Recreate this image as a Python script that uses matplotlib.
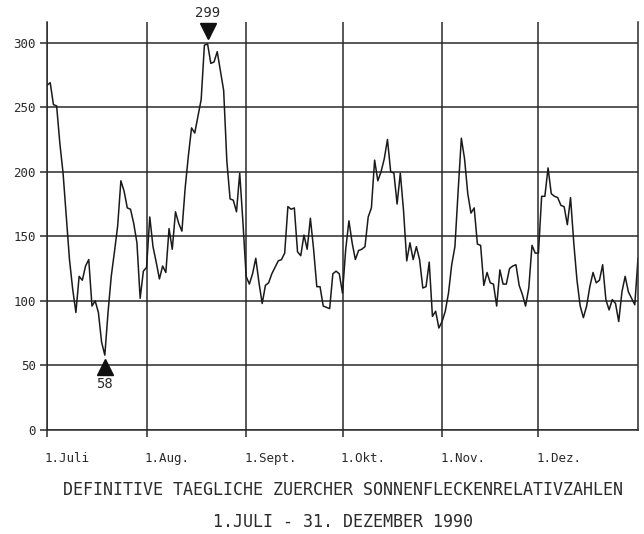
import matplotlib
matplotlib.use("Agg")
import matplotlib.pyplot as plt
from matplotlib.transforms import offset_copy, ScaledTranslation
import numpy as np

# Daily sunspot numbers (1 July 1990 onwards)
juli = [267, 269, 252, 251, 222, 199, 166, 132, 109, 91, 119, 116, 127, 132, 96, 100,
        91, 68, 58, 91, 119, 138, 158, 193, 185, 172, 171, 160, 145, 102, 123]
aug = [126, 165, 142, 130, 117, 127, 122, 156, 140, 169, 160, 154, 187, 212, 234, 230,
       243, 256, 298, 299, 284, 285, 293, 278, 263, 208, 179, 178, 169, 199, 161]
sept = [119, 113, 121, 133, 114, 98, 112, 114, 121, 126, 131, 132, 137, 173, 171, 172,
        138, 135, 151, 140, 164, 140, 111, 111, 96, 95, 94, 121, 123, 121]
okt = [106, 140, 162, 145, 132, 139, 140, 142, 165, 172, 209, 193, 200, 210, 225, 200,
       199, 175, 199, 170, 131, 145, 132, 142, 132, 110, 111, 130, 88, 92, 79]
nov = [84, 92, 106, 128, 142, 185, 226, 210, 183, 168, 172, 144, 143, 112, 122, 114,
       113, 96, 124, 113, 113, 125, 127, 128, 112, 105, 96, 110, 143, 137]
dez = [137, 181, 181, 203, 183, 181, 180, 174, 173, 159, 180, 145, 116, 96, 87, 96,
       111, 122, 114, 116, 128, 101, 93, 101, 98, 84, 107, 119, 107, 102, 97, 133]

month_labels = ["1.Juli", "1.Aug.", "1.Sept.", "1.Okt.", "1.Nov.", "1.Dez."]
month_starts = [0, 31, 62, 92, 123, 153]
y_ticks = [0, 50, 100, 150, 200, 250, 300]
title1 = "DEFINITIVE TAEGLICHE ZUERCHER SONNENFLECKENRELATIVZAHLEN"
title2 = "1.JULI - 31. DEZEMBER 1990"

values = np.array(juli + aug + sept + okt + nov + dez)
days = np.arange(len(values))

plt.rcParams['font.family'] = ['DejaVu Sans Mono']
ink = '#2a2a2a'

fig = plt.figure(figsize=(6.44, 5.34), dpi=100)
ax = fig.add_axes([47/644, 1 - 430/534, (638 - 47)/644, (430 - 22)/534])

ax.plot(days, values, color='#1a1a1a', linewidth=1.1)

ax.set_xlim(0, days[-1])
ax.set_ylim(0, 316)
ax.set_xticks(month_starts)
ax.set_xticklabels(month_labels, ha='left', fontsize=9, color=ink)
ax.set_yticks(y_ticks)
ax.set_yticklabels([str(v) for v in y_ticks], fontsize=9, color=ink)
ax.tick_params(direction='out', length=5, width=1.1, color=ink, pad=3)
ax.tick_params(axis='x', pad=11)
ax.grid(True, color=ink, linewidth=1.1)
ax.set_axisbelow(True)
for side in ['left', 'bottom', 'right']:
    ax.spines[side].set_color(ink)
    ax.spines[side].set_linewidth(1.1)
ax.spines['top'].set_visible(False)

# small shift of the x labels so they start at the grid line
for lbl in ax.get_xticklabels():
    lbl.set_transform(lbl.get_transform() + ScaledTranslation(-2/100, 0, fig.dpi_scale_trans))

# maximum and minimum markers
i_max = int(np.argmax(values))
i_min = int(np.argmin(values))
tri_up = offset_copy(ax.transData, fig=fig, x=0, y=13, units='dots')
lab_up = offset_copy(ax.transData, fig=fig, x=0, y=31, units='dots')
tri_dn = offset_copy(ax.transData, fig=fig, x=0, y=-12, units='dots')
lab_dn = offset_copy(ax.transData, fig=fig, x=0, y=-29, units='dots')
ax.plot([days[i_max]], [values[i_max]], marker='v', markersize=11, color='#111111',
        transform=tri_up, clip_on=False)
ax.text(days[i_max], values[i_max], str(values[i_max]), transform=lab_up,
        ha='center', va='center', fontsize=10, color=ink, clip_on=False)
ax.plot([days[i_min]], [values[i_min]], marker='^', markersize=11, color='#111111',
        transform=tri_dn, clip_on=False)
ax.text(days[i_min], values[i_min], str(values[i_min]), transform=lab_dn,
        ha='center', va='center', fontsize=10, color=ink, clip_on=False)

cx = (47 + 638) / 2 / 644
fig.text(cx, 1 - 490/534, title1, ha='center', va='center', fontsize=12, color=ink)
fig.text(cx, 1 - 522/534, title2, ha='center', va='center', fontsize=12, color=ink)

fig.savefig('out.png', dpi=100, facecolor='white')
